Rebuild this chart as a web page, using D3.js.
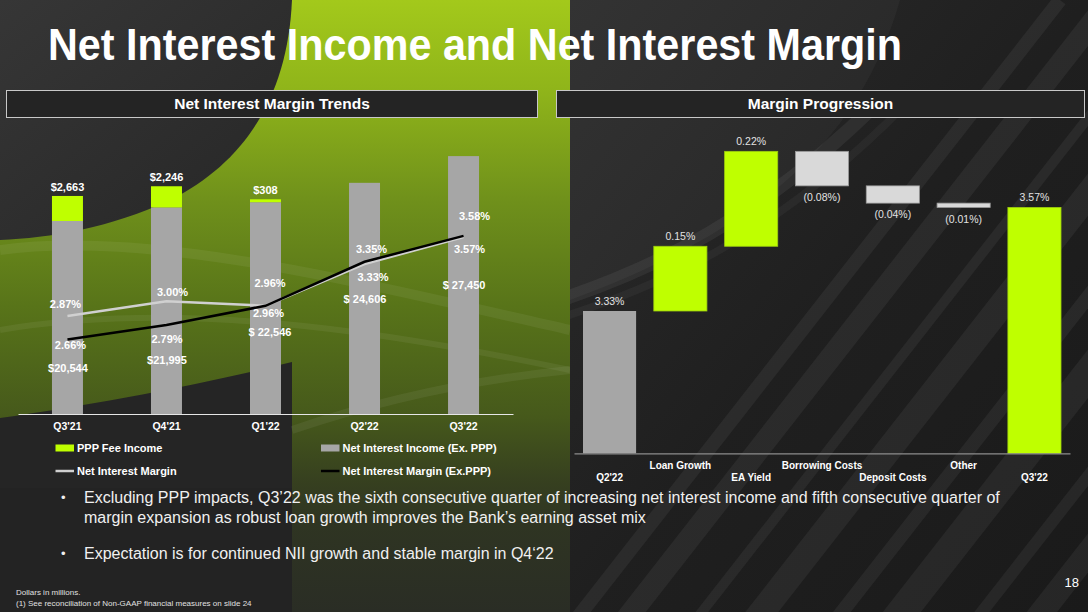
<!DOCTYPE html>
<html>
<head>
<meta charset="utf-8">
<script src="https://cdn.jsdelivr.net/npm/d3@7"></script>
<style>
  html, body { margin: 0; padding: 0; background: #222; }
  svg { display: block; font-family: "Liberation Sans", Arial, sans-serif; }
</style>
</head>
<body>
<svg id="chart" width="1088" height="612"></svg>
<script>
// ---------------- DATA ----------------
const quarters = ["Q3'21", "Q4'21", "Q1'22", "Q2'22", "Q3'22"];
const niiExPPP = [20544, 21995, 22546, 24606, 27450];
const pppFee = [2663, 2246, 308, 0, 0];
const nim = [2.87, 3.00, 2.96, 3.33, 3.57];
const nimExPPP = [2.66, 2.79, 2.96, 3.35, 3.58];
const niiLabels = ["$20,544", "$21,995", "$ 22,546", "$ 24,606", "$ 27,450"];
const pppLabels = ["$2,663", "$2,246", "$308", "", ""];
const nimLabels = ["2.87%", "3.00%", "2.96%", "3.33%", "3.57%"];
const nimExLabels = ["2.66%", "2.79%", "2.96%", "3.35%", "3.58%"];

const wfCategories = ["Q2'22", "Loan Growth", "EA Yield", "Borrowing Costs", "Deposit Costs", "Other", "Q3'22"];
const wfValues = [3.33, 0.15, 0.22, -0.08, -0.04, -0.01, 3.57];
const wfIsTotal = [true, false, false, false, false, false, true];
const wfLabels = ["3.33%", "0.15%", "0.22%", "(0.08%)", "(0.04%)", "(0.01%)", "3.57%"];

const legendItems = ["PPP Fee Income", "Net Interest Income (Ex. PPP)", "Net Interest Margin", "Net Interest Margin (Ex.PPP)"];
const bullets = [
  ["Excluding PPP impacts, Q3\u201922 was the sixth consecutive quarter of increasing net interest income and fifth consecutive quarter of",
   "margin expansion as robust loan growth improves the Bank\u2019s earning asset mix"],
  ["Expectation is for continued NII growth and stable margin in Q4\u201822"]
];
const footnotes = ["Dollars in millions.", "(1) See reconciliation of Non-GAAP financial measures on slide 24"];

// ------------- label layout offsets (px, relative to scale positions) -------------
const nimLabelOff = [[-2, -12], [6, -9], [3, 7.5], [8.5, 13], [6, 12]];
const nimExLabelOff = [[3, 5.5], [0.5, 14.5], [4.5, -22.5], [7, -12.5], [11, -20]];
const niiLabelOff = [[0.5, 147], [0.5, 153], [4.5, 129.5], [0.5, 116], [0.5, 129]];

// ---------------- STYLE ----------------
const LIME = "#bfff00";
const GRAY = "#a6a6a6";
const FONT = "'Liberation Sans', Arial, sans-serif";

const svg = d3.select("#chart");
const defs = svg.append("defs");

// ---------------- BACKGROUND ----------------
const bgGrad = defs.append("linearGradient").attr("id", "bgGrad")
  .attr("x1", 0).attr("y1", 0).attr("x2", 1).attr("y2", 1);
bgGrad.append("stop").attr("offset", 0).attr("stop-color", "#2e2e2e");
bgGrad.append("stop").attr("offset", 1).attr("stop-color", "#1b1b1b");
svg.append("rect").attr("width", 1088).attr("height", 612).attr("fill", "url(#bgGrad)");

const greenGrad = defs.append("linearGradient").attr("id", "greenGrad")
  .attr("x1", 0).attr("y1", 0).attr("x2", 0).attr("y2", 1);
[[0, "#a3c91b"], [0.15, "#8fb41a"], [0.33, "#6f901b"], [0.5, "#587419"], [0.68, "#46591b"],
 [0.78, "#37411f"], [0.85, "#2f3522"], [1, "#2a2d25"]].forEach(([o, c]) =>
  greenGrad.append("stop").attr("offset", o).attr("stop-color", c));

const bg = svg.append("g");
bg.append("rect").attr("x", 0).attr("y", 0).attr("width", 570).attr("height", 612).attr("fill", "url(#greenGrad)");

// top-left dark ellipse region
const tlGrad = defs.append("linearGradient").attr("id", "tlGrad")
  .attr("x1", 0).attr("y1", 0).attr("x2", 1).attr("y2", 1);
tlGrad.append("stop").attr("offset", 0).attr("stop-color", "#363636");
tlGrad.append("stop").attr("offset", 1).attr("stop-color", "#262626");
bg.append("path")
  .attr("d", "M0,0 L292,0 C288,90 250,160 170,200 C110,228 50,238 0,240 Z")
  .attr("fill", "url(#tlGrad)");

// bottom-left dark region
bg.append("path")
  .attr("d", "M0,418 C90,405 200,385 292,362 L292,612 L0,612 Z")
  .attr("fill", "#252525");
bg.append("rect").attr("x", 0).attr("y", 488).attr("width", 292).attr("height", 124).attr("fill", "#232323");

// faint streaks in green area
const streaks = bg.append("g").attr("fill", "none").attr("stroke", "rgba(255,255,255,0.06)");
streaks.append("path").attr("d", "M0,250 C150,230 350,280 570,330").attr("stroke-width", 10);
streaks.append("path").attr("d", "M0,330 C180,300 380,330 570,370").attr("stroke-width", 6);
streaks.append("path").attr("d", "M292,430 C380,400 470,380 570,370").attr("stroke-width", 8);

// right side dark panel
const rGrad = defs.append("linearGradient").attr("id", "rGrad")
  .attr("x1", 0).attr("y1", 0).attr("x2", 1).attr("y2", 1);
rGrad.append("stop").attr("offset", 0).attr("stop-color", "#2c2c2c");
rGrad.append("stop").attr("offset", 0.5).attr("stop-color", "#1f1f1f");
rGrad.append("stop").attr("offset", 1).attr("stop-color", "#1a1a1a");
bg.append("rect").attr("x", 570).attr("y", 0).attr("width", 518).attr("height", 612).attr("fill", "url(#rGrad)");

defs.append("clipPath").attr("id", "rightClip").append("rect")
  .attr("x", 570).attr("y", 0).attr("width", 518).attr("height", 612);
const stripes = bg.append("g").attr("clip-path", "url(#rightClip)");
stripes.append("path")
  .attr("d", "M570,0 L900,0 C860,140 760,230 570,300 Z")
  .attr("fill", "rgba(255,255,255,0.035)");
[[560, 14], [610, 22], [680, 10], [740, 26], [820, 14], [880, 30], [960, 12], [1020, 24], [1100, 16], [1160, 20]]
  .forEach(([x0, w]) => {
    stripes.append("line")
      .attr("x1", x0).attr("y1", 640).attr("x2", x0 + 500).attr("y2", 0)
      .attr("stroke", "rgba(255,255,255,0.055)").attr("stroke-width", w);
  });
stripes.append("path").attr("d", "M560,300 C650,270 760,220 880,100")
  .attr("fill", "none").attr("stroke", "rgba(255,255,255,0.06)").attr("stroke-width", 14);
stripes.append("path").attr("d", "M560,318 C660,285 770,240 900,110")
  .attr("fill", "none").attr("stroke", "rgba(255,255,255,0.04)").attr("stroke-width", 8);

// ---------------- TITLE ----------------
svg.append("text").attr("x", 48).attr("y", 60)
  .attr("font-size", 44).attr("font-weight", "bold").attr("fill", "#ffffff").attr("font-family", FONT)
  .attr("textLength", 854).attr("lengthAdjust", "spacingAndGlyphs")
  .text("Net Interest Income and Net Interest Margin");

// panel headers
function header(x0, x1, label) {
  svg.append("rect").attr("x", x0).attr("y", 90.5).attr("width", x1 - x0).attr("height", 27)
    .attr("fill", "#242424").attr("stroke", "#c8c8c8").attr("stroke-width", 1);
  svg.append("text").attr("x", (x0 + x1) / 2).attr("y", 104).attr("dy", "0.35em")
    .attr("text-anchor", "middle").attr("font-size", 15.5).attr("font-weight", "bold")
    .attr("fill", "#ffffff").text(label);
}
header(6.5, 537.5, "Net Interest Margin Trends");
header(556.5, 1084.5, "Margin Progression");

// ---------------- LEFT CHART ----------------
const x = d3.scaleBand().domain(quarters).range([18, 513]).paddingInner(0.687).paddingOuter(0.343);
const y = d3.scaleLinear().domain([0, 30000]).range([414, 132.15]);
const y2 = d3.scaleLinear().domain([2.0, 4.5]).range([414, 132.15]);

const left = svg.append("g");
left.selectAll("rect.nii").data(quarters).join("rect").attr("class", "nii")
  .attr("x", d => x(d)).attr("width", x.bandwidth())
  .attr("y", (d, i) => y(niiExPPP[i])).attr("height", (d, i) => y(0) - y(niiExPPP[i]))
  .attr("fill", GRAY);
left.selectAll("rect.ppp").data(quarters).join("rect").attr("class", "ppp")
  .attr("x", d => x(d)).attr("width", x.bandwidth())
  .attr("y", (d, i) => y(niiExPPP[i] + pppFee[i])).attr("height", (d, i) => y(niiExPPP[i]) - y(niiExPPP[i] + pppFee[i]))
  .attr("fill", LIME);

const xAxis = left.append("g").attr("transform", "translate(0,414)")
  .call(d3.axisBottom(x).tickSize(0).tickPadding(9));
xAxis.select(".domain").attr("stroke", "#e6e6e6").attr("stroke-width", 1.2);
xAxis.selectAll("text").attr("fill", "#ffffff").attr("font-size", 10.5).attr("font-weight", "bold").attr("font-family", FONT);

const cx = d => x(d) + x.bandwidth() / 2;
const lineNim = d3.line().x((d, i) => cx(quarters[i])).y(d => y2(d));
left.append("path").datum(nim).attr("d", lineNim).attr("fill", "none")
  .attr("stroke", "#d0d0d0").attr("stroke-width", 2.5);
left.append("path").datum(nimExPPP).attr("d", lineNim).attr("fill", "none")
  .attr("stroke", "#000000").attr("stroke-width", 2.5);

const lbl = left.append("g").attr("font-size", 11).attr("font-weight", "bold")
  .attr("fill", "#ffffff").attr("text-anchor", "middle").attr("font-family", FONT);
quarters.forEach((q, i) => {
  if (pppLabels[i]) lbl.append("text").attr("x", cx(q)).attr("y", y(niiExPPP[i] + pppFee[i]) - 9)
    .attr("dy", "0.35em").text(pppLabels[i]);
  lbl.append("text").attr("x", cx(q) + niiLabelOff[i][0]).attr("y", y(niiExPPP[i]) + niiLabelOff[i][1])
    .attr("dy", "0.35em").text(niiLabels[i]);
  lbl.append("text").attr("x", cx(q) + nimLabelOff[i][0]).attr("y", y2(nim[i]) + nimLabelOff[i][1])
    .attr("dy", "0.35em").text(nimLabels[i]);
  lbl.append("text").attr("x", cx(q) + nimExLabelOff[i][0]).attr("y", y2(nimExPPP[i]) + nimExLabelOff[i][1])
    .attr("dy", "0.35em").text(nimExLabels[i]);
});

// legend
const leg = svg.append("g").attr("font-size", 11).attr("font-weight", "bold").attr("fill", "#ffffff");
const legPos = [[55.5, 448], [321, 448], [55.5, 471], [321, 471]];
leg.append("rect").attr("x", legPos[0][0]).attr("y", legPos[0][1] - 3.5).attr("width", 18.5).attr("height", 7).attr("fill", LIME);
leg.append("rect").attr("x", legPos[1][0]).attr("y", legPos[1][1] - 3.5).attr("width", 18.5).attr("height", 7).attr("fill", GRAY);
leg.append("line").attr("x1", legPos[2][0]).attr("x2", legPos[2][0] + 18.5).attr("y1", legPos[2][1]).attr("y2", legPos[2][1])
  .attr("stroke", "#d0d0d0").attr("stroke-width", 2.5);
leg.append("line").attr("x1", legPos[3][0]).attr("x2", legPos[3][0] + 18.5).attr("y1", legPos[3][1]).attr("y2", legPos[3][1])
  .attr("stroke", "#000000").attr("stroke-width", 2.5);
legendItems.forEach((t, i) => leg.append("text").attr("x", legPos[i][0] + 21.5).attr("y", legPos[i][1])
  .attr("dy", "0.35em").text(t));

// ---------------- WATERFALL ----------------
const xw = d3.scaleBand().domain(wfCategories).range([574, 1070]).paddingInner(0.25).paddingOuter(0.127);
const yw = d3.scaleLinear().domain([3.0, 3.8]).range([453.4, 108.2]);

let running = 0;
const wf = wfValues.map((v, i) => {
  let lo, hi;
  if (wfIsTotal[i]) { lo = yw.domain()[0]; hi = v; running = v; }
  else { const s = running; running = s + v; lo = Math.min(s, running); hi = Math.max(s, running); }
  return { cat: wfCategories[i], v, lo, hi, total: wfIsTotal[i], label: wfLabels[i] };
});

const right = svg.append("g");
right.selectAll("rect.wf").data(wf).join("rect").attr("class", "wf")
  .attr("x", d => xw(d.cat)).attr("width", xw.bandwidth())
  .attr("y", d => yw(d.hi)).attr("height", d => yw(d.lo) - yw(d.hi))
  .attr("fill", (d, i) => i === 0 ? GRAY : (d.v >= 0 ? LIME : "#d9d9d9"))
  .attr("stroke", (d, i) => i === 0 ? "none" : (d.v >= 0 ? "#9ccc10" : "#9a9a9a"))
  .attr("stroke-width", 0.8);

const wAxis = right.append("g").attr("transform", "translate(0,453.4)")
  .call(d3.axisBottom(xw).tickSize(0).tickPadding(0));
wAxis.select(".domain").attr("stroke", "#8c8c8c").attr("stroke-width", 1.2);
wAxis.selectAll("text").attr("fill", "#ffffff").attr("font-size", 10).attr("font-weight", "bold")
  .attr("font-family", FONT)
  .attr("y", (d, i) => i % 2 === 0 ? 24.6 : 12.5).attr("dy", "0.35em");

right.selectAll("text.wfl").data(wf).join("text").attr("class", "wfl")
  .attr("x", d => xw(d.cat) + xw.bandwidth() / 2)
  .attr("y", d => d.v >= 0 ? yw(d.hi) - 10 : yw(d.lo) + 11.5)
  .attr("dy", "0.35em").attr("text-anchor", "middle")
  .attr("font-size", 10.5).attr("fill", "#e2e2e2").text(d => d.label);

// ---------------- BULLETS & FOOTNOTES ----------------
const bt = svg.append("g").attr("font-size", 16).attr("fill", "#f0f0f0");
const bulletY = [[497, 517], [553]];
bullets.forEach((lines, bi) => {
  bt.append("text").attr("x", 61).attr("y", bulletY[bi][0]).attr("dy", "0.35em").attr("font-size", 13).text("\u2022");
  lines.forEach((l, li) => bt.append("text").attr("x", 84).attr("y", bulletY[bi][li]).attr("dy", "0.35em").text(l));
});

const fn = svg.append("g").attr("font-size", 8).attr("fill", "#e0e0e0");
fn.append("text").attr("x", 16).attr("y", 595).text(footnotes[0]);
fn.append("text").attr("x", 16).attr("y", 606).text(footnotes[1]);
svg.append("text").attr("x", 1079).attr("y", 587).attr("text-anchor", "end")
  .attr("font-size", 13).attr("fill", "#ffffff").text("18");
</script>
</body>
</html>
